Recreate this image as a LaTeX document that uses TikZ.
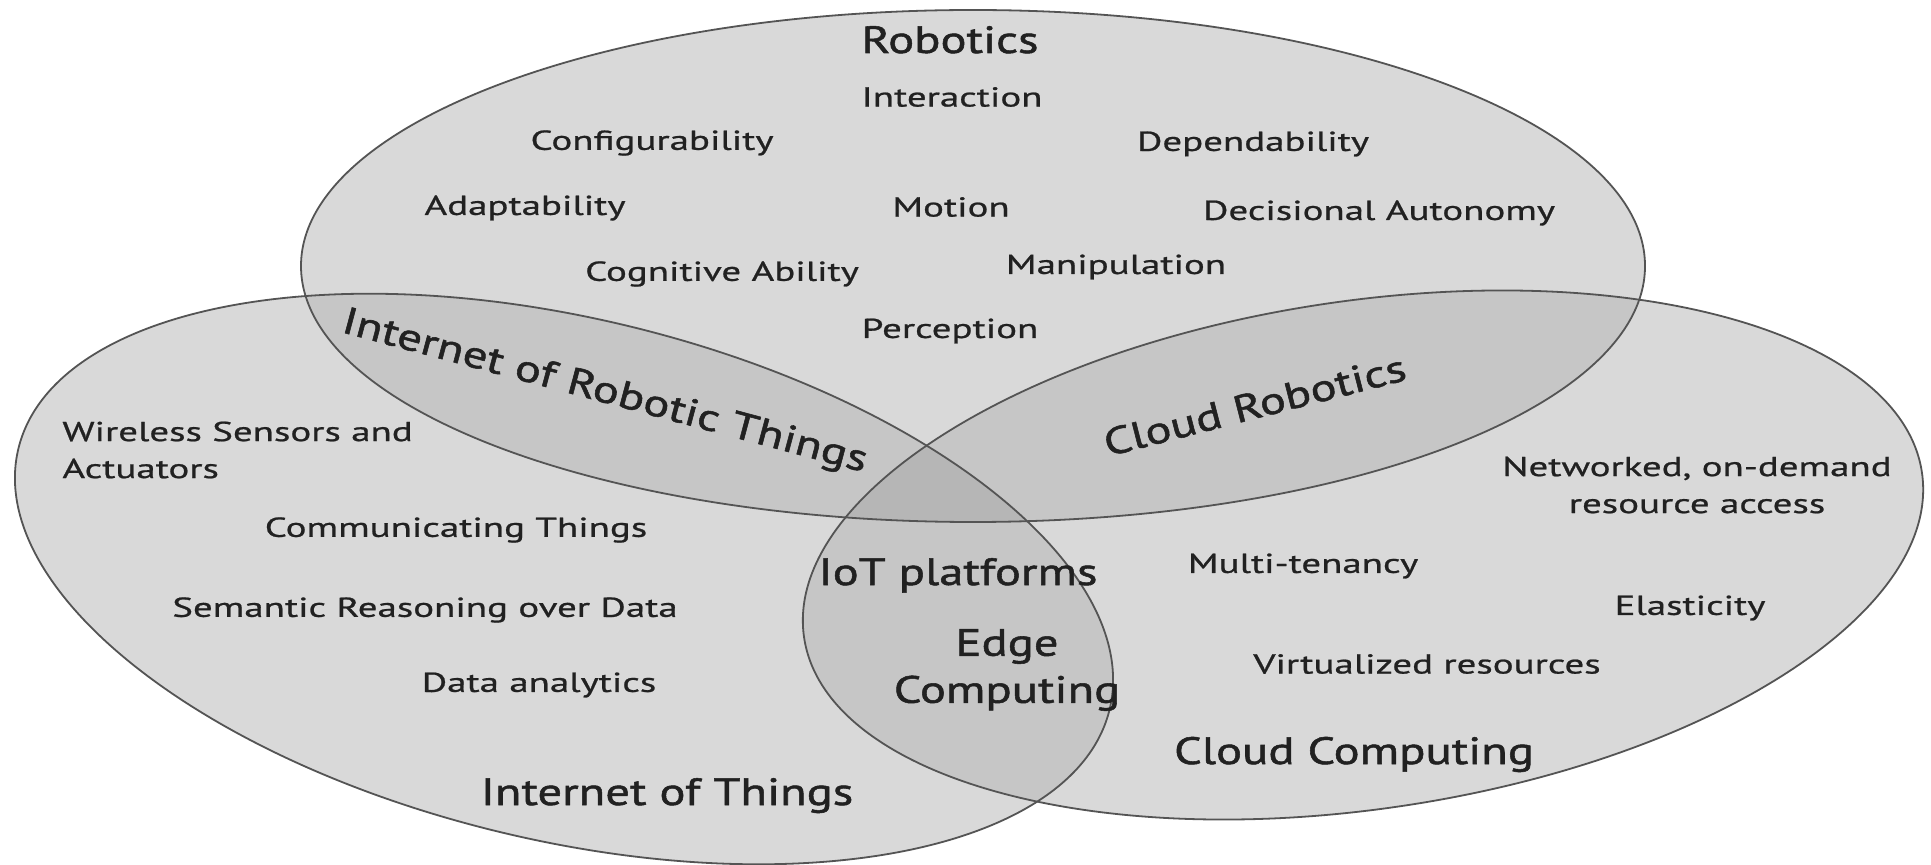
\documentclass[tikz,border=0pt]{standalone}
\usepackage{fontspec}
\setmainfont{PT Sans}
\newfontfamily\normfont{PT Sans}[FakeStretch=1.42, FakeBold=0.8]
\newfontfamily\headfont{PT Sans}[FakeStretch=1.28, FakeBold=1.4]
\definecolor{cone}{gray}{0.85}
\definecolor{ctwo}{gray}{0.775}
\definecolor{cthree}{gray}{0.715}
\definecolor{edgec}{gray}{0.33}
\definecolor{txt}{gray}{0.13}
\begin{document}
\begin{tikzpicture}[x=0.5pt,y=0.5pt,
  lbl/.style={inner sep=0pt, text=txt, font=\normfont\fontsize{13.7}{18.5}\selectfont},
  head/.style={inner sep=0pt, text=txt, font=\headfont\fontsize{19}{23.5}\selectfont},
  setline/.style={draw=edgec, line width=0.9pt},
  rotI/.style={rotate around={-13.4:(564,-579)}},
  rotC/.style={rotate around={8.4:(1363,-555)}}]
\useasboundingbox (0,0) rectangle (1931,-865);
\fill[white] (0,0) rectangle (1931,-865);
% single regions
\fill[cone] (973,-266) ellipse [x radius=672, y radius=256];
\fill[cone,rotI] (564,-579) ellipse [x radius=561, y radius=261];
\fill[cone,rotC] (1363,-555) ellipse [x radius=565, y radius=254];
% pairwise overlaps
\begin{scope}
  \clip (973,-266) ellipse [x radius=672, y radius=256];
  \fill[ctwo,rotI] (564,-579) ellipse [x radius=561, y radius=261];
  \fill[ctwo,rotC] (1363,-555) ellipse [x radius=565, y radius=254];
\end{scope}
\begin{scope}
  \clip[rotI] (564,-579) ellipse [x radius=561, y radius=261];
  \fill[ctwo,rotC] (1363,-555) ellipse [x radius=565, y radius=254];
\end{scope}
% triple overlap
\begin{scope}
  \clip (973,-266) ellipse [x radius=672, y radius=256];
  \clip[rotI] (564,-579) ellipse [x radius=561, y radius=261];
  \fill[cthree,rotC] (1363,-555) ellipse [x radius=565, y radius=254];
\end{scope}
% outlines
\draw[setline] (973,-266) ellipse [x radius=672, y radius=256];
\draw[setline,rotI] (564,-579) ellipse [x radius=561, y radius=261];
\draw[setline,rotC] (1363,-555) ellipse [x radius=565, y radius=254];

% headings
\node[head, anchor=base] (robotics) at (950,-53) {Robotics};
\node[head, anchor=base] (iot) at (667,-805) {Internet of Things};
\node[head, anchor=base] (cloudc) at (1354,-764) {Cloud Computing};
\node[head, anchor=base, rotate=-15] (iort) at (602,-402) {Internet of Robotic Things};
\node[head, anchor=base, rotate=14.4] (cloudr) at (1258,-418) {Cloud Robotics};
\node[head, anchor=base] (iotp) at (958,-585) {IoT platforms};
\node[head, align=center] (edge) at (1007,-670) {Edge\\Computing};

% robotics items
\node[lbl] (interaction) at (952,-97) {Interaction};
\node[lbl] (config) at (652,-143) {Configurability};
\node[lbl] (depend) at (1253,-144) {Dependability};
\node[lbl] (adapt) at (525,-208) {Adaptability};
\node[lbl] (motion) at (951,-207) {Motion};
\node[lbl] (decis) at (1379,-213) {Decisional Autonomy};
\node[lbl] (cogn) at (722,-274) {Cognitive Ability};
\node[lbl] (manip) at (1116,-267) {Manipulation};
\node[lbl] (percep) at (950,-331) {Perception};

% IoT items
\node[lbl, anchor=west, align=left] (wireless) at (62,-450) {Wireless Sensors and\\Actuators};
\node[lbl] (comm) at (456,-530) {Communicating Things};
\node[lbl] (sem) at (425,-610) {Semantic Reasoning over Data};
\node[lbl] (data) at (539,-685) {Data analytics};

% cloud items
\node[lbl, align=center] (netw) at (1697,-485) {Networked, on-demand\\resource access};
\node[lbl] (multi) at (1303,-566) {Multi-tenancy};
\node[lbl] (elast) at (1690,-608) {Elasticity};
\node[lbl] (virt) at (1427,-664) {Virtualized resources};
\end{tikzpicture}
\end{document}
